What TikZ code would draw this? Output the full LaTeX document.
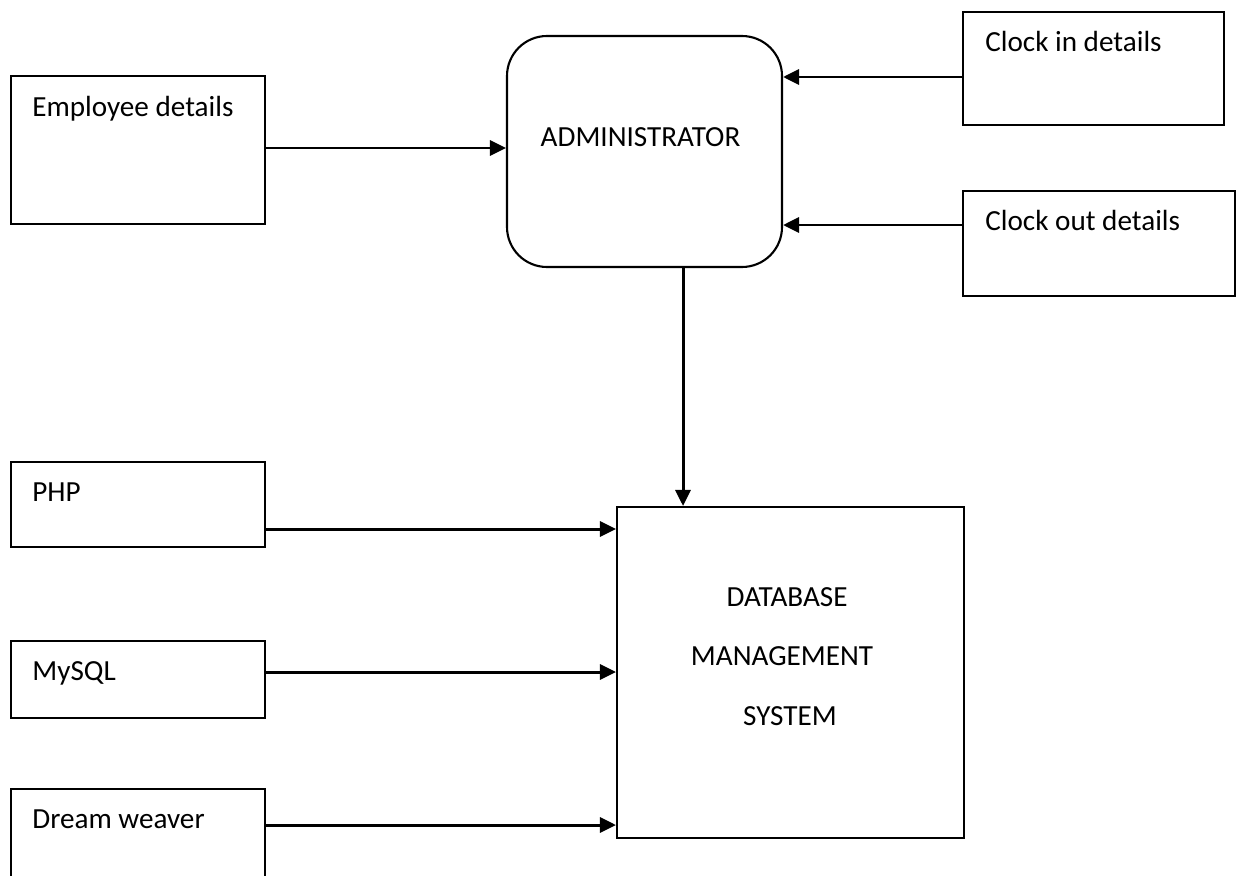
\documentclass[tikz,border=0pt]{standalone}
\usepackage{fontspec}
\setmainfont{Carlito}
\usetikzlibrary{arrows.meta}

\tikzset{
	box/.style={draw, line width=1.2pt, inner sep=0pt},
	roundbox/.style={box, rounded corners=0.8cm},
	lbl/.style={inner sep=0pt, anchor=base west, font=\fontsize{16.6}{20}\selectfont},
	flow/.style={line width=1.7pt, -{Triangle[length=0.32cm, width=0.3cm]}}
}

\begin{document}
\begin{tikzpicture}[x=0.02cm, y=-0.02cm]{
		\def\px{0.02cm}
		\useasboundingbox (0,0) rectangle (1236,875);
		\clip (0,0) rectangle (1236,875);

		% upper part
		\node[box, minimum width=254*\px, minimum height=148*\px] (employee) at (138,150) {};
		\node[lbl] (employee text) at (32,116) {Employee details};
		\node[roundbox, minimum width=275*\px, minimum height=231*\px] (admin) at (644.5,151.5) {};
		\node[lbl, anchor=base] (admin text) at (640.5,146) {ADMINISTRATOR};
		\node[box, minimum width=261*\px, minimum height=113*\px] (clockin) at (1093.5,68.5) {};
		\node[lbl] (clockin text) at (985,52) {Clock in details};
		\node[box, minimum width=272*\px, minimum height=105*\px] (clockout) at (1099,243.5) {};
		\node[lbl] (clockout text) at (985,230) {Clock out details};

		\draw[flow] (employee.east |- 0,148) -- (admin.west |- 0,148);
		\draw[flow] (clockin.west |- 0,77) -- (admin.east |- 0,77);
		\draw[flow] (clockout.west |- 0,225) -- (admin.east |- 0,225);

		% lower part
		\node[box, minimum width=347*\px, minimum height=331*\px] (dbms) at (790.5,672.5) {};
		\node[lbl, anchor=base] (dbms text1) at (787,606) {DATABASE};
		\node[lbl, anchor=base] (dbms text2) at (782,665) {MANAGEMENT};
		\node[lbl, anchor=base] (dbms text3) at (790,725) {SYSTEM};

		\draw[flow] (admin.south -| 683,0) -- (dbms.north -| 683,0);

		\foreach \n/\c/\h/\a/\t in {php/504.5/85/529/PHP, mysql/679.5/77/672/MySQL, dream/844.5/111/825/Dream weaver}
		{
				\pgfmathsetmacro{\base}{\c - \h/2 + 39.5}
				\node[box, minimum width=254*\px, minimum height=\h*\px] (\n) at (138,\c) {};
				\node[lbl] (\n text) at (32,\base) {\t};
				\draw[flow] (\n.east |- 0,\a) -- (dbms.west |- 0,\a);
		}

	}\end{tikzpicture}
\end{document}
